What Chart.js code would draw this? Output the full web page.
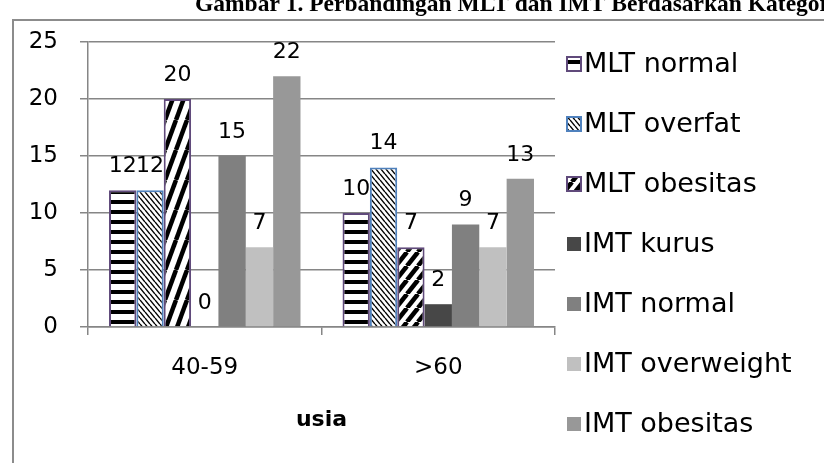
<!DOCTYPE html>
<html>
<head>
<meta charset="utf-8">
<script src="https://cdn.jsdelivr.net/npm/chart.js@4/dist/chart.umd.min.js"></script>
<style>
  html, body { margin: 0; padding: 0; background: #fff; }
  #wrap { width: 824px; height: 463px; position: relative; }
</style>
</head>
<body>
<div id="wrap"><canvas id="chart" width="824" height="463"></canvas></div>
<script>
// data
const categories = ['40-59', '>60'];
const seriesNames = ['MLT normal', 'MLT overfat', 'MLT obesitas', 'IMT kurus', 'IMT normal', 'IMT overweight', 'IMT obesitas'];
const mltNormal = [12, 10];
const mltOverfat = [12, 14];
const mltObesitas = [20, 7];
const imtKurus = [0, 2];
const imtNormal = [15, 9];
const imtOverweight = [7, 7];
const imtObesitas = [22, 13];
const yTicks = [0, 5, 10, 15, 20, 25];

const FONT = '"DejaVu Sans", sans-serif';
const GRID = '#868686';

// hatch fills, built on small tiles
function tile(w, h, draw) {
  const c = document.createElement('canvas');
  c.width = w; c.height = h;
  const g = c.getContext('2d');
  g.fillStyle = '#fff';
  g.fillRect(0, 0, w, h);
  g.strokeStyle = '#000';
  g.fillStyle = '#000';
  draw(g, w, h);
  return document.getElementById('chart').getContext('2d').createPattern(c, 'repeat');
}
const horizStripes = tile(8, 10, (g, w, h) => { g.fillRect(0, 0, w, 4); });
const downDiag = tile(5, 6, (g, w, h) => {
  g.lineWidth = 1.4;
  for (let k = -1; k <= 1; k++) { g.beginPath(); g.moveTo(k * w, 0); g.lineTo(k * w + w, h); g.stroke(); }
});
function upDiag(w, h) {
  return tile(w, h, (g) => {
    g.lineWidth = 4.5;
    for (let k = -1; k <= 1; k++) { g.beginPath(); g.moveTo(k * w, h); g.lineTo(k * w + w, 0); g.stroke(); }
  });
}
const upSteep = upDiag(11, 30);
const upWide = upDiag(11, 14);

const datasets = [
  { label: seriesNames[0], data: mltNormal, backgroundColor: horizStripes, borderColor: '#604A7B', borderWidth: 2 },
  { label: seriesNames[1], data: mltOverfat, backgroundColor: downDiag, borderColor: '#4F81BD', borderWidth: 2 },
  { label: seriesNames[2], data: mltObesitas, backgroundColor: [upSteep, upWide], borderColor: '#604A7B', borderWidth: 2 },
  { label: seriesNames[3], data: imtKurus, backgroundColor: '#474747', borderWidth: 0 },
  { label: seriesNames[4], data: imtNormal, backgroundColor: '#808080', borderWidth: 0 },
  { label: seriesNames[5], data: imtOverweight, backgroundColor: '#C0C0C0', borderWidth: 0 },
  { label: seriesNames[6], data: imtObesitas, backgroundColor: '#989898', borderWidth: 0 }
];

// frame and cut-off heading at the top
const framePlugin = {
  id: 'frame',
  beforeDraw(chart) {
    const ctx = chart.ctx;
    ctx.save();
    ctx.strokeStyle = '#8c8c8c';
    ctx.lineWidth = 2;
    ctx.strokeRect(13, 20, 900, 600);
    ctx.fillStyle = '#000';
    ctx.font = 'bold 23.5px "Liberation Serif", serif';
    ctx.textBaseline = 'alphabetic';
    ctx.fillText('Gambar 1. Perbandingan MLT dan IMT Berdasarkan Kategori', 195, 11);
    ctx.restore();
  }
};

// numbers above the bars
const valueLabels = {
  id: 'valueLabels',
  afterDatasetsDraw(chart) {
    const ctx = chart.ctx;
    ctx.save();
    ctx.fillStyle = '#000';
    ctx.font = '22px ' + FONT;
    ctx.textAlign = 'center';
    ctx.textBaseline = 'alphabetic';
    chart.data.datasets.forEach((ds, i) => {
      chart.getDatasetMeta(i).data.forEach((bar, j) => {
        ctx.fillText(String(ds.data[j]), bar.x, bar.y - 18);
      });
    });
    ctx.restore();
  }
};

// legend column on the right
const sideLegend = {
  id: 'sideLegend',
  afterDraw(chart) {
    const ctx = chart.ctx;
    ctx.save();
    ctx.font = '27px ' + FONT;
    ctx.textBaseline = 'middle';
    chart.data.datasets.forEach((ds, i) => {
      const y = 64 + i * 60;
      const fill = Array.isArray(ds.backgroundColor) ? ds.backgroundColor[1] : ds.backgroundColor;
      ctx.fillStyle = fill;
      ctx.fillRect(567, y - 7, 14, 14);
      if (ds.borderWidth) {
        ctx.strokeStyle = ds.borderColor;
        ctx.lineWidth = 2;
        ctx.strokeRect(567, y - 7, 14, 14);
      }
      ctx.fillStyle = '#000';
      ctx.fillText(ds.label, 584, y + 1);
    });
    ctx.restore();
  }
};

new Chart('chart', {
  type: 'bar',
  data: { labels: categories, datasets: datasets },
  plugins: [framePlugin, valueLabels, sideLegend],
  options: {
    responsive: false,
    animation: false,
    layout: { padding: { left: 13, right: 269, top: 42, bottom: 0 } },
    datasets: { bar: { barPercentage: 1, categoryPercentage: 0.82 } },
    plugins: { legend: { display: false }, tooltip: { enabled: false } },
    scales: {
      x: {
        afterFit(scale) { scale.height = 136; },
        grid: { offset: true, drawOnChartArea: false, drawTicks: true, tickLength: 8, color: GRID, lineWidth: 1.5 },
        border: { display: true, color: GRID, width: 1.5 },
        ticks: { color: '#000', font: { family: FONT, size: 23 }, padding: 19 },
        title: { display: true, text: 'usia', color: '#000', font: { family: FONT, size: 22, weight: 'bold' }, padding: { top: 0, bottom: 30 } }
      },
      y: {
        min: 0,
        max: 25,
        afterFit(scale) { scale.width = 75; },
        afterBuildTicks(scale) { scale.ticks = yTicks.map(v => ({ value: v })); },
        grid: { color: GRID, lineWidth: 1.5, tickLength: 8 },
        border: { display: true, color: GRID, width: 1.5 },
        ticks: { color: '#000', font: { family: FONT, size: 23 }, padding: 22 }
      }
    }
  }
});
</script>
</body>
</html>
